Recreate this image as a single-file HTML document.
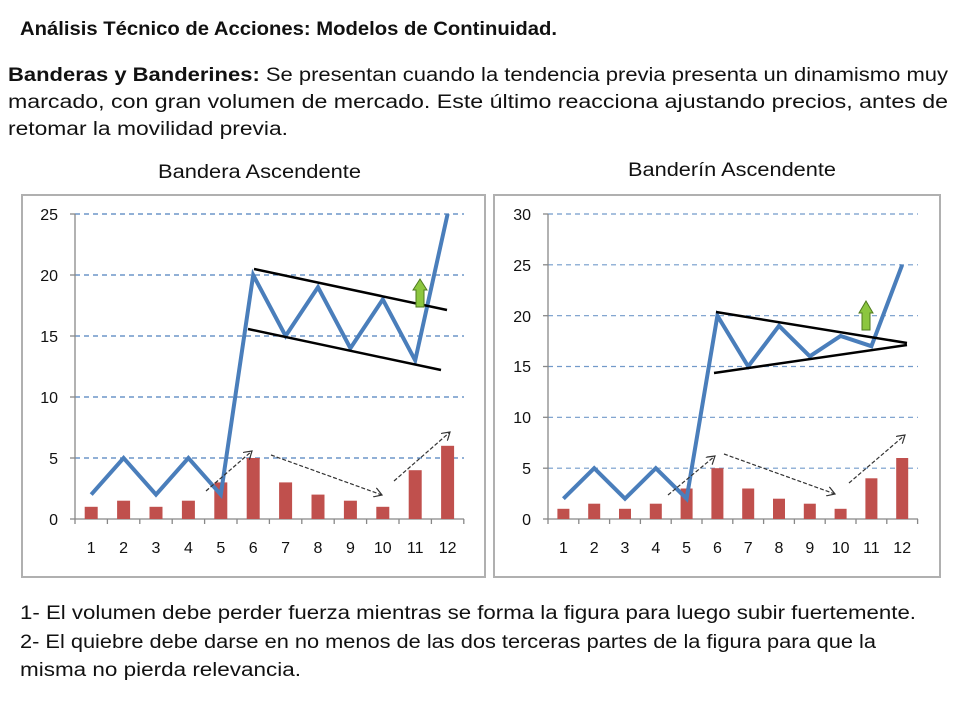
<!DOCTYPE html>
<html><head><meta charset="utf-8"><style>
body{margin:0;background:#fff;}
svg{display:block;font-family:"Liberation Sans",sans-serif;}
</style></head><body>
<svg width="960" height="720" viewBox="0 0 960 720">
<defs>
<marker id="ah" markerWidth="10" markerHeight="10" refX="8" refY="5" orient="auto" markerUnits="userSpaceOnUse">
<path d="M0,0 L8,5 L0,10" fill="none" stroke="#333" stroke-width="1.2"/></marker>
</defs>
<rect width="960" height="720" fill="#fff"/>
<g fill="#111" font-size="19">
<text x="20" y="35" font-weight="bold" textLength="537" lengthAdjust="spacingAndGlyphs">Análisis Técnico de Acciones: Modelos de Continuidad.</text>
<text x="8" y="81" textLength="940" lengthAdjust="spacingAndGlyphs"><tspan font-weight="bold">Banderas y Banderines:</tspan> Se presentan cuando la tendencia previa presenta un dinamismo muy</text>
<text x="8" y="108" textLength="940" lengthAdjust="spacingAndGlyphs">marcado, con gran volumen de mercado. Este último reacciona ajustando precios, antes de</text>
<text x="8" y="135" textLength="280" lengthAdjust="spacingAndGlyphs">retomar la movilidad previa.</text>
<text x="158" y="178" textLength="203" lengthAdjust="spacingAndGlyphs">Bandera Ascendente</text>
<text x="628" y="176" textLength="208" lengthAdjust="spacingAndGlyphs">Banderín Ascendente</text>
<text x="20" y="619" textLength="896" lengthAdjust="spacingAndGlyphs">1- El volumen debe perder fuerza mientras se forma la figura para luego subir fuertemente.</text>
<text x="20" y="648" textLength="856" lengthAdjust="spacingAndGlyphs">2- El quiebre debe darse en no menos de las dos terceras partes de la figura para que la</text>
<text x="20" y="676" textLength="281" lengthAdjust="spacingAndGlyphs">misma no pierda relevancia.</text>
</g>

<!-- LEFT CHART -->
<rect x="22" y="195" width="463" height="382" fill="#fff" stroke="#b0b0b0" stroke-width="2"/>
<g stroke="#4f81bd" stroke-width="1.2" stroke-dasharray="5,4">
<line x1="75" y1="214" x2="464" y2="214"/><line x1="75" y1="275" x2="464" y2="275"/>
<line x1="75" y1="336" x2="464" y2="336"/><line x1="75" y1="397" x2="464" y2="397"/>
<line x1="75" y1="458" x2="464" y2="458"/></g>
<g stroke="#888" stroke-width="1.3">
<line x1="75" y1="214" x2="75" y2="519"/><line x1="75" y1="519" x2="464" y2="519"/>
<line x1="70" y1="214" x2="75" y2="214"/><line x1="70" y1="275" x2="75" y2="275"/><line x1="70" y1="336" x2="75" y2="336"/><line x1="70" y1="397" x2="75" y2="397"/><line x1="70" y1="458" x2="75" y2="458"/><line x1="70" y1="519" x2="75" y2="519"/>
<path d="M107.4 519v5M139.8 519v5M172.2 519v5M204.6 519v5M237 519v5M269.4 519v5M301.8 519v5M334.2 519v5M366.6 519v5M399 519v5M431.4 519v5M463.8 519v5M75 519v5"/>
</g>
<g font-size="16" fill="#111" text-anchor="end">
<text x="58" y="220">25</text><text x="58" y="281">20</text><text x="58" y="342">15</text><text x="58" y="403">10</text><text x="58" y="464">5</text><text x="58" y="525">0</text></g>
<g font-size="16" fill="#111" text-anchor="middle">
<text x="91.2" y="553">1</text><text x="123.6" y="553">2</text><text x="156" y="553">3</text><text x="188.4" y="553">4</text><text x="220.8" y="553">5</text><text x="253.2" y="553">6</text><text x="285.6" y="553">7</text><text x="318" y="553">8</text><text x="350.4" y="553">9</text><text x="382.8" y="553">10</text><text x="415.2" y="553">11</text><text x="447.6" y="553">12</text></g>
<g fill="#c0504d">
<rect x="84.7" y="506.8" width="13" height="12.2"/><rect x="117.1" y="500.7" width="13" height="18.3"/><rect x="149.5" y="506.8" width="13" height="12.2"/><rect x="181.9" y="500.7" width="13" height="18.3"/><rect x="214.3" y="482.4" width="13" height="36.6"/><rect x="246.7" y="458" width="13" height="61"/><rect x="279.1" y="482.4" width="13" height="36.6"/><rect x="311.5" y="494.6" width="13" height="24.4"/><rect x="343.9" y="500.7" width="13" height="18.3"/><rect x="376.3" y="506.8" width="13" height="12.2"/><rect x="408.7" y="470.2" width="13" height="48.8"/><rect x="441.1" y="445.8" width="13" height="73.2"/></g>
<polyline fill="none" stroke="#4a7ebb" stroke-width="4" stroke-linejoin="miter" points="91.2,494.6 123.6,458 156,494.6 188.4,458 220.8,494.6 253.2,275 285.6,336 318,287.2 350.4,348.2 382.8,299.4 415.2,360.4 447.6,214"/>
<g stroke="#000" stroke-width="2.5"><line x1="254" y1="269" x2="447" y2="310"/><line x1="248" y1="329" x2="441" y2="370"/></g>
<path d="M416,307 V290 H413 L420,279 L427,290 H424 V307 Z" fill="#8cc63f" stroke="#4e7a1e" stroke-width="1"/>
<g stroke="#333" stroke-width="1.2" stroke-dasharray="4,2" fill="none">
<line x1="206" y1="491" x2="252" y2="451" marker-end="url(#ah)"/><line x1="271" y1="455" x2="382" y2="495" marker-end="url(#ah)"/><line x1="394" y1="481" x2="450" y2="432" marker-end="url(#ah)"/></g>

<!-- RIGHT CHART -->
<rect x="494" y="195" width="446" height="382" fill="#fff" stroke="#b0b0b0" stroke-width="2"/>
<g stroke="#4f81bd" stroke-width="1.2" stroke-dasharray="5,4" opacity="0.8">
<line x1="548" y1="214" x2="918" y2="214"/><line x1="548" y1="264.8" x2="918" y2="264.8"/><line x1="548" y1="315.7" x2="918" y2="315.7"/><line x1="548" y1="366.5" x2="918" y2="366.5"/><line x1="548" y1="417.3" x2="918" y2="417.3"/><line x1="548" y1="468.2" x2="918" y2="468.2"/></g>
<g stroke="#888" stroke-width="1.3">
<line x1="548" y1="214" x2="548" y2="519"/><line x1="548" y1="519" x2="918" y2="519"/>
<line x1="543" y1="214" x2="548" y2="214"/><line x1="543" y1="264.8" x2="548" y2="264.8"/><line x1="543" y1="315.7" x2="548" y2="315.7"/><line x1="543" y1="366.5" x2="548" y2="366.5"/><line x1="543" y1="417.3" x2="548" y2="417.3"/><line x1="543" y1="468.2" x2="548" y2="468.2"/><line x1="543" y1="519" x2="548" y2="519"/>
<path d="M548 519v5M578.8 519v5M609.6 519v5M640.4 519v5M671.2 519v5M702 519v5M732.8 519v5M763.6 519v5M794.4 519v5M825.2 519v5M856 519v5M886.8 519v5M917.6 519v5"/></g>
<g font-size="16" fill="#111" text-anchor="end">
<text x="531" y="220">30</text><text x="531" y="271">25</text><text x="531" y="322">20</text><text x="531" y="372">15</text><text x="531" y="423">10</text><text x="531" y="474">5</text><text x="531" y="525">0</text></g>
<g font-size="16" fill="#111" text-anchor="middle">
<text x="563.4" y="553">1</text><text x="594.2" y="553">2</text><text x="625" y="553">3</text><text x="655.8" y="553">4</text><text x="686.6" y="553">5</text><text x="717.4" y="553">6</text><text x="748.2" y="553">7</text><text x="779" y="553">8</text><text x="809.8" y="553">9</text><text x="840.6" y="553">10</text><text x="871.4" y="553">11</text><text x="902.2" y="553">12</text></g>
<g fill="#c0504d">
<rect x="557.4" y="508.8" width="12" height="10.2"/><rect x="588.2" y="503.7" width="12" height="15.3"/><rect x="619" y="508.8" width="12" height="10.2"/><rect x="649.8" y="503.7" width="12" height="15.3"/><rect x="680.6" y="488.5" width="12" height="30.5"/><rect x="711.4" y="468.2" width="12" height="50.8"/><rect x="742.2" y="488.5" width="12" height="30.5"/><rect x="773" y="498.7" width="12" height="20.3"/><rect x="803.8" y="503.7" width="12" height="15.3"/><rect x="834.6" y="508.8" width="12" height="10.2"/><rect x="865.4" y="478.3" width="12" height="40.7"/><rect x="896.2" y="458" width="12" height="61"/></g>
<polyline fill="none" stroke="#4a7ebb" stroke-width="4" points="563.4,498.7 594.2,468.2 625,498.7 655.8,468.2 686.6,498.7 717.4,315.7 748.2,366.5 779,325.8 809.8,356.3 840.6,336 871.4,346.2 902.2,264.8"/>
<g stroke="#000" stroke-width="2.5"><line x1="716" y1="312" x2="907" y2="343"/><line x1="714" y1="373" x2="907" y2="345"/></g>
<path d="M862,330 V313 H859 L866,301 L873,313 H870 V330 Z" fill="#8cc63f" stroke="#4e7a1e" stroke-width="1"/>
<g stroke="#333" stroke-width="1.2" stroke-dasharray="4,2" fill="none">
<line x1="668" y1="495" x2="715" y2="456" marker-end="url(#ah)"/><line x1="724" y1="454" x2="835" y2="494" marker-end="url(#ah)"/><line x1="849" y1="483" x2="905" y2="435" marker-end="url(#ah)"/></g>
</svg>
</body></html>
